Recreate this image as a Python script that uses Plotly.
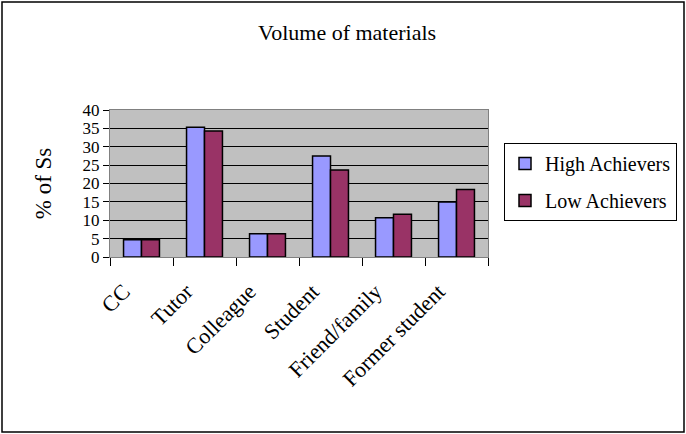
import plotly.graph_objects as go

categories = ["CC", "Tutor", "Colleague", "Student", "Friend/family", "Former student"]
high_achievers = [4.7, 35.3, 6.3, 27.5, 10.7, 15.0]
low_achievers = [4.7, 34.3, 6.3, 23.7, 11.6, 18.4]

serif = "Liberation Serif, Times New Roman, serif"

fig = go.Figure()
fig.add_trace(go.Bar(
    x=categories, y=high_achievers, name="High Achievers",
    marker=dict(color="#9999FF", line=dict(color="black", width=1.5)),
    legendgroup="a",
))
fig.add_trace(go.Bar(
    x=categories, y=low_achievers, name="Low Achievers",
    marker=dict(color="#993366", line=dict(color="black", width=1.5)),
    legendgroup="b",
))

fig.update_layout(
    width=686, height=434,
    margin=dict(l=110, r=198, t=110, b=177, autoexpand=False),
    paper_bgcolor="white",
    plot_bgcolor="#C0C0C0",
    barmode="group",
    bargap=0.43,
    bargroupgap=0,
    font=dict(family=serif, size=22, color="black"),
    title=dict(text="Volume of materials", x=0.506, xanchor="center",
               y=0.926, yanchor="middle", font=dict(family=serif, size=22)),
    legend=dict(
        xref="container", yref="container",
        x=504 / 686, y=(434 - 143) / 434, xanchor="left", yanchor="top",
        bordercolor="black", borderwidth=1, bgcolor="white",
        font=dict(family=serif, size=20),
        traceorder="grouped", tracegroupgap=8,
        itemwidth=30,
    ),
    showlegend=True,
)

fig.update_xaxes(
    type="category",
    tickangle=-45,
    tickson="boundaries",
    ticks="outside", ticklen=8, tickcolor="black",
    showline=True, linecolor="#808080", mirror=True,
    showgrid=False,
    ticklabelstandoff=12,
    ticklabelshift=-18,
    tickfont=dict(family=serif, size=22),
)
fig.update_yaxes(
    range=[0, 40], dtick=5,
    ticks="outside", ticklen=6, tickcolor="black",
    showline=True, linecolor="#808080", mirror=True,
    showgrid=True, gridcolor="black", gridwidth=1,
    zeroline=False,
    tickfont=dict(family=serif, size=17),
    title=dict(text="% of Ss", font=dict(family=serif, size=23), standoff=24),
)

# Outer frame around the whole chart
fig.add_shape(
    type="rect", xref="paper", yref="paper",
    x0=(2 - 110) / 378, x1=(684 - 110) / 378,
    y0=(257 - 432) / 147, y1=(257 - 2) / 147,
    line=dict(color="black", width=1.5), fillcolor="rgba(0,0,0,0)",
    layer="below",
)

fig.write_html("out.html")
